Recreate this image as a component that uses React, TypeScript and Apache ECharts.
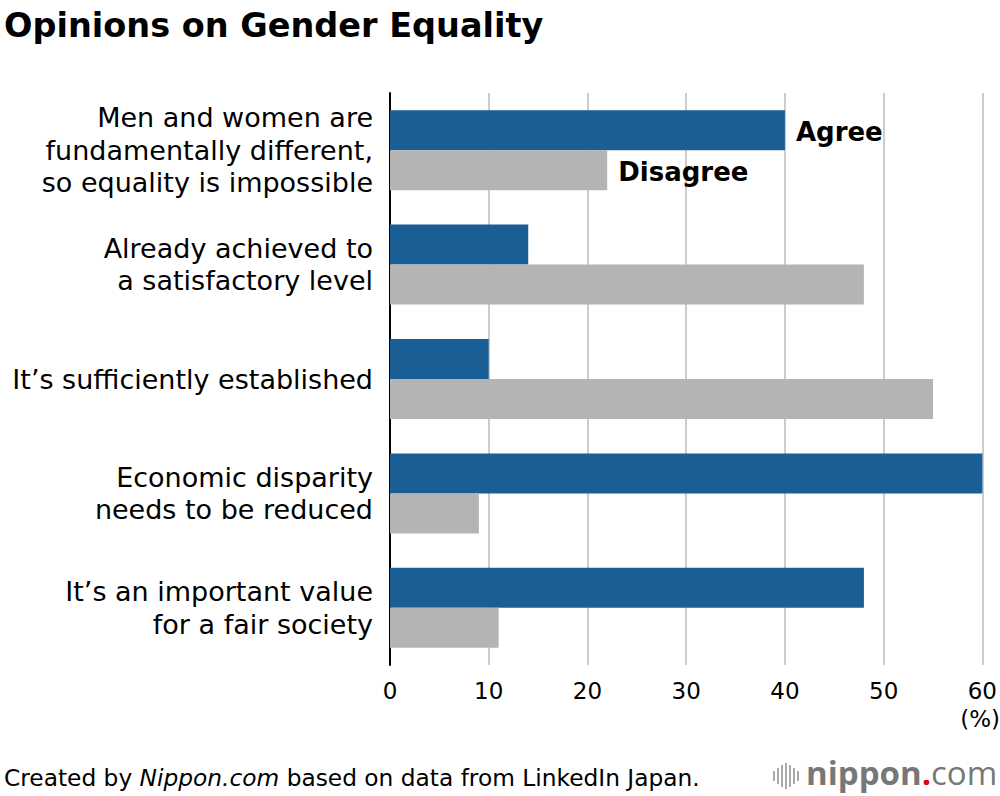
import React, { useEffect, useRef } from "react";
import * as echarts from "echarts";

const categories = [
  "Men and women are\nfundamentally different,\nso equality is impossible",
  "Already achieved to\na satisfactory level",
  "It’s sufficiently established",
  "Economic disparity\nneeds to be reduced",
  "It’s an important value\nfor a fair society",
];
const agree = [40, 14, 10, 60, 48];
const disagree = [22, 48, 55, 9, 11];
const xTicks = [0, 10, 20, 30, 40, 50, 60];

const FONT = "'DejaVu Sans', 'Liberation Sans', Arial, sans-serif";
const LOGO = "'Open Sans', 'Noto Sans', sans-serif";

export default function App() {
  const ref = useRef<HTMLDivElement>(null);
  useEffect(() => {
    document.body.style.margin = "0";
    const chart = echarts.init(ref.current!, null, { renderer: "svg" });
    const labelFirst = (name: string) => ({
      show: true,
      position: "right" as const,
      distance: 11,
      offset: [0, 2],
      formatter: (p: any) => (p.dataIndex === 0 ? name : ""),
      color: "#000",
      fontFamily: FONT,
      fontWeight: "bold" as const,
      fontSize: 26,
    });
    const iconBars = [
      [0, 10], [4, 16], [8, 22], [12, 26], [16, 22], [20, 16], [24, 10],
    ];
    chart.setOption({
      animation: false,
      backgroundColor: "#fff",
      textStyle: { fontFamily: FONT },
      grid: { left: 390, right: 16, top: 93, bottom: 131, containLabel: false },
      xAxis: {
        type: "value",
        min: 0,
        max: 60,
        interval: 10,
        axisLine: { show: false },
        axisTick: { show: false },
        splitLine: { show: true, lineStyle: { color: "#cccccc", width: 2 } },
        axisLabel: {
          color: "#000",
          fontSize: 23,
          fontFamily: FONT,
          margin: 14,
          formatter: (v: number) => (xTicks.includes(v) ? String(v) : ""),
        },
      },
      yAxis: {
        type: "category",
        data: categories,
        inverse: true,
        axisLine: { show: true, lineStyle: { color: "#000", width: 2 } },
        axisTick: { show: false },
        axisLabel: {
          color: "#000",
          fontSize: 27,
          lineHeight: 32.5,
          fontFamily: FONT,
          margin: 17,
          align: "right",
        },
      },
      series: [
        {
          name: "Agree",
          type: "bar",
          data: agree,
          barWidth: 40,
          barGap: "0%",
          itemStyle: { color: "#1a5e96" },
          label: labelFirst("Agree"),
        },
        {
          name: "Disagree",
          type: "bar",
          data: disagree,
          barWidth: 40,
          barGap: "0%",
          itemStyle: { color: "#b4b4b4" },
          label: labelFirst("Disagree"),
        },
      ],
      graphic: [
        {
          type: "text",
          left: 4,
          top: 8,
          style: {
            text: "Opinions on Gender Equality",
            fontFamily: FONT,
            fontWeight: "bold",
            fontSize: 33.5,
            fill: "#000",
          },
        },
        {
          type: "text",
          right: 0,
          top: 707,
          style: { text: "(%)", fontFamily: FONT, fontSize: 23, fill: "#000" },
        },
        {
          type: "text",
          left: 4,
          top: 766,
          style: {
            rich: {
              n: { fontFamily: FONT, fontSize: 23.3, fill: "#000" },
              i: { fontFamily: FONT, fontSize: 23.3, fill: "#000", fontStyle: "italic" },
            },
            text: "{n|Created by }{i|Nippon.com}{n| based on data from LinkedIn Japan.}",
          },
        },
        {
          type: "group",
          left: 773,
          top: 763,
          children: iconBars.map(([x, h]) => ({
            type: "rect",
            shape: { x, y: (26 - h) / 2, width: 2, height: h },
            style: { fill: "#aaaaaa" },
          })),
        },
        {
          type: "text",
          left: 806,
          top: 756,
          style: {
            rich: {
              a: { fontFamily: LOGO, fontSize: 33, fontWeight: "bold", fill: "#777" },
              d: { fontFamily: LOGO, fontSize: 33, fontWeight: "bold", fill: "#e60012" },
              c: { fontFamily: LOGO, fontSize: 33, fill: "#777" },
            },
            text: "{a|nippon}{d|.}{c|com}",
          },
        },
      ],
    });
    return () => chart.dispose();
  }, []);
  return <div ref={ref} style={{ width: 1000, height: 796 }} />;
}
